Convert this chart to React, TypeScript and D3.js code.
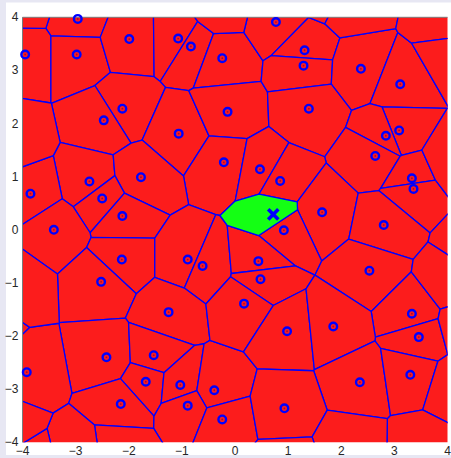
import React from 'react';
import * as d3 from 'd3';

// Voronoi sites shown inside the view window
const siteX = [
  -2.96, -3.95, -2.98, -1.99, -1.07, -0.83, -0.24, -2.12, -2.47, -1.06,
  -0.14, -0.21, -2.74, -1.77, -3.85, -2.5, -2.12, -3.41, 0.77, 1.31,
  1.29, 2.37, 3.11, 1.39, 3.09, 2.84, 2.64, 0.47, 0.85, 3.33,
  3.36, 1.64, 0.92, 2.8, -2.13, -0.89, -0.61, -2.52, -1.25, -2.42,
  -1.53, -3.92, -1.68, -1.03, -0.39, -2.15, -0.89, -0.24, 0.44, 0.48,
  0.17, 2.53, 3.33, 3.46, 0.98, 1.85, 2.35, 3.3, 0.93,
];
const siteY = [
  3.97, 3.3, 3.3, 3.59, 3.6, 3.45, 3.23, 2.28, 2.06, 1.81,
  2.22, 1.27, 0.91, 0.99, 0.68, 0.59, 0.26, 0.0, 3.91, 3.38,
  3.09, 3.03, 2.74, 2.28, 1.87, 1.77, 1.39, 1.14, 0.92, 0.97,
  0.77, 0.33, -0.01, 0.09, -0.56, -0.56, -0.68, -0.98, -1.55, -2.4,
  -2.36, -2.68, -2.86, -2.92, -3.02, -3.28, -3.31, -3.57, -0.59, -0.93,
  -1.39, -0.77, -1.58, -2.02, -1.91, -1.82, -2.87, -2.73, -3.36,
];

// Query site (its cell is highlighted)
const queryX = 0.72;
const queryY = 0.29;

// Sites lying just beyond the axis limits (their cells reach into view)
const outerX = [
  -3.94, -0.28, 1.75, 2.16, 4.02, 4.1, 4.04, 4.52, 4.08, 4.31,
  4.1, 3.54, 2.18, 0.98, -2.2, -2.94, -3.84, -4.31, -4.71, -4.15, -4.21,
];
const outerY = [
  4.29, 4.17, 4.5, 4.29, 3.91, 3.31, 1.29, -0.32, -1.0, -1.79,
  -2.98, -4.09, -4.07, -4.48, -4.12, -4.23, -4.45, -3.69, -1.85, -1.04, 1.67,
];

const xTicks = [-4, -3, -2, -1, 0, 1, 2, 3, 4];
const yTicks = [-4, -3, -2, -1, 0, 1, 2, 3, 4];

const W = 451;
const H = 458;
const LEFT = 22.5;
const RIGHT = 447.5;
const TOP = 17.3;
const BOTTOM = 442.3;

export default function App() {
  const x = d3.scaleLinear().domain([-4, 4]).range([LEFT, RIGHT]);
  const y = d3.scaleLinear().domain([-4, 4]).range([BOTTOM, TOP]);

  const pts: [number, number][] = [
    ...siteX.map((v, i) => [x(v), y(siteY[i])] as [number, number]),
    [x(queryX), y(queryY)],
    ...outerX.map((v, i) => [x(v), y(outerY[i])] as [number, number]),
  ];
  const queryIndex = siteX.length;
  const delaunay = d3.Delaunay.from(pts);
  const vor = delaunay.voronoi([LEFT - 300, TOP - 300, RIGHT + 300, BOTTOM + 300]);

  const fmt = d3.format('d');
  const font = 'Liberation Sans, Arial, Helvetica, sans-serif';
  const qx = x(queryX);
  const qy = y(queryY);

  return (
    <svg
      width={W}
      height={H}
      style={{ position: 'absolute', left: 0, top: 0 }}
      xmlns="http://www.w3.org/2000/svg"
    >
      <rect x={0} y={0} width={W} height={H} fill="#e7e7f3" />
      <rect x={6} y={2.5} width={W - 6} height={452.5} fill="#ffffff" />
      <defs>
        <clipPath id="plot-area">
          <rect x={LEFT} y={TOP} width={RIGHT - LEFT} height={BOTTOM - TOP} />
        </clipPath>
      </defs>
      <g clipPath="url(#plot-area)">
        {pts.map((_, i) => (
          <path
            key={i}
            d={vor.renderCell(i)}
            fill={i === queryIndex ? '#14ff14' : '#fc1c1c'}
            stroke="#0000ff"
            strokeWidth={1.3}
            strokeLinejoin="round"
          />
        ))}
      </g>
      <line x1={LEFT} x2={LEFT} y1={TOP} y2={BOTTOM} stroke="#7a7a7a" strokeWidth={1} />
      <line x1={LEFT} x2={RIGHT} y1={TOP} y2={TOP} stroke="#7a7a7a" strokeWidth={1} />
      {siteX.map((v, i) => (
        <g key={i}>
          <circle cx={x(v)} cy={y(siteY[i])} r={3.8} fill="none" stroke="#0000ff" strokeWidth={2.4} />
          <circle cx={x(v)} cy={y(siteY[i])} r={0.9} fill="#9a0a40" />
        </g>
      ))}
      <g stroke="#0000ff" strokeWidth={3.6} strokeLinecap="square">
        <line x1={qx - 3.8} y1={qy - 3.8} x2={qx + 3.8} y2={qy + 3.8} />
        <line x1={qx - 3.8} y1={qy + 3.8} x2={qx + 3.8} y2={qy - 3.8} />
      </g>
      {xTicks.map((t) => (
        <text key={t} x={x(t)} y={BOTTOM + 12.3} textAnchor="middle" fontFamily={font} fontSize={12} fill="#262626">
          {fmt(t)}
        </text>
      ))}
      {yTicks.map((t) => (
        <text key={t} x={LEFT - 4} y={y(t) + 4} textAnchor="end" fontFamily={font} fontSize={12} fill="#262626">
          {fmt(t)}
        </text>
      ))}
    </svg>
  );
}
